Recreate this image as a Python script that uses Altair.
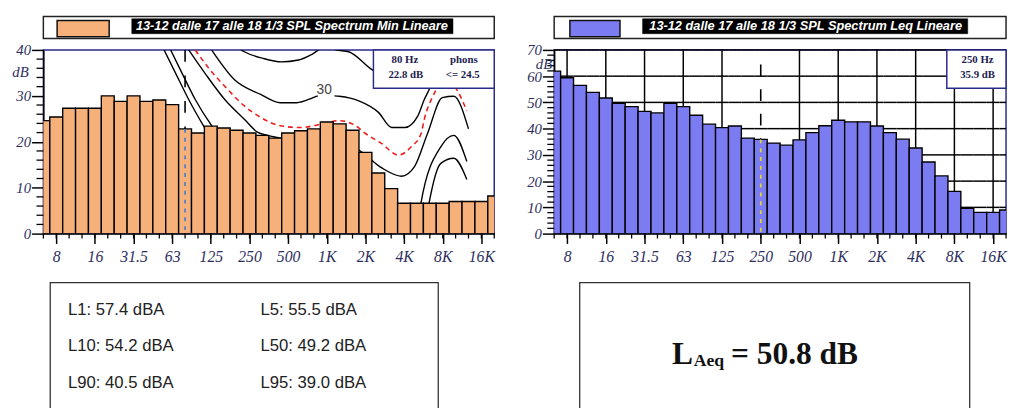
import json
import altair as alt
import pandas as pd

# ---------------- data ----------------
bands = ["6.3", "8", "10", "12.5", "16", "20", "25", "31.5", "40", "50", "63", "80",
         "100", "125", "160", "200", "250", "315", "400", "500", "630", "800", "1K",
         "1.25K", "1.6K", "2K", "2.5K", "3.15K", "4K", "5K", "6.3K", "8K", "10K",
         "12.5K", "16K", "20K"]
min_spl = [24.6, 25.4, 27.3, 27.3, 27.3, 30.0, 28.8, 30.0, 28.8, 29.1, 28.1, 22.8,
           21.9, 23.4, 23.0, 22.5, 21.9, 21.4, 20.8, 21.9, 22.4, 22.8, 24.3, 23.9,
           22.5, 17.7, 13.2, 9.8, 6.6, 6.6, 6.6, 6.6, 7.0, 7.0, 7.0, 8.2]
leq_spl = [61.9, 59.4, 56.5, 53.8, 51.7, 49.7, 48.4, 46.6, 46.0, 49.7, 48.4, 45.1,
           41.7, 40.4, 41.0, 36.4, 35.9, 34.5, 33.7, 35.7, 38.5, 41.1, 43.2, 42.6,
           42.6, 41.0, 38.5, 36.0, 32.6, 27.3, 22.0, 16.1, 9.6, 8.1, 8.1, 9.0]
octave_idx = [1, 4, 7, 10, 13, 16, 19, 22, 25, 28, 31, 34]
octave_labels = ["8", "16", "31.5", "63", "125", "250", "500", "1K", "2K", "4K", "8K", "16K"]
leq_grid_levels = [10, 20, 30, 40, 50, 60, 70]

# equal-loudness contours (band position, dB)
phon0_pos = [9.37, 10.27, 11.28, 12.42, 14.0, 16.0, 19.0, 22.0, 25.0, 27.0, 28.6, 29.5, 29.95, 30.85, 31.86, 32.87]
phon0_db = [40.0, 34.9, 29.2, 23.5, 16.5, 10.0, 5.0, 2.5, 1.0, -1.0, -2.5, -1.0, 6.8, 15.3, 16.4, 11.8]
phon10_pos = [9.88, 10.77, 11.79, 13.06, 15.0, 17.0, 20.0, 22.0, 25.0, 27.5, 28.6, 29.15, 29.32, 30.85, 31.86, 32.87]
phon10_db = [40.0, 34.9, 29.2, 23.5, 17.0, 13.5, 11.0, 10.0, 8.0, 3.0, 0.5, 1.0, 6.8, 18.9, 21.4, 15.7]
phon20_pos = [11.28, 12.55, 14.08, 15.6, 16.62, 17.38, 19.0, 21.95, 23.3, 24.49, 26.27, 27.8, 28.81, 29.82, 30.97, 31.86, 33.0]
phon20_db = [40.0, 34.9, 29.2, 24.9, 22.1, 21.4, 20.6, 20.0, 19.5, 18.2, 14.3, 12.5, 14.6, 21.8, 29.6, 29.9, 22.8]
phon30a_pos = [13.06, 14.84, 16.87, 18.39, 19.66, 20.94, 21.3]
phon30a_db = [40.0, 33.5, 30.3, 28.5, 28.5, 29.6, 30.0]
phon30b_pos = [22.6, 22.97, 24.49, 26.01, 27.04, 28.05, 29.06, 29.57, 29.95, 30.6, 31.5, 32.4, 33.0]
phon30b_db = [30.0, 29.9, 28.9, 26.4, 23.1, 23.1, 25.6, 29.2, 31.4, 36.0, 40.0, 38.0, 35.0]
phon40_pos = [15.2, 15.6, 17.0, 18.5, 19.8, 20.94, 21.9, 22.71, 23.7, 25.51, 27.0, 28.5, 29.5, 30.5, 31.5, 32.5, 33.0]
phon40_db = [40.3, 39.6, 38.2, 37.4, 37.8, 39.2, 40.8, 40.0, 39.6, 35.7, 33.5, 33.5, 37.0, 42.0, 44.0, 42.0, 40.0]
limit_pos = [11.79, 12.93, 14.08, 15.6, 16.87, 18.39, 19.92, 21.7, 22.97, 24.24, 25.0, 26.27, 27.54, 28.56, 29.32, 29.57, 30.34, 31.2, 32.24, 32.87]
limit_db = [40.0, 35.7, 32.1, 27.8, 25.3, 23.5, 23.1, 23.9, 24.6, 23.5, 21.8, 19.6, 17.1, 18.9, 21.8, 24.9, 30.5, 34.0, 30.6, 26.7]
contour_label = "30"
contour_label_pos, contour_label_db = 21.8, 31.2

title_min = "13-12 dalle 17 alle 18 1/3 SPL Spectrum Min Lineare"
title_leq = "13-12 dalle 17 alle 18 1/3 SPL Spectrum Leq Lineare"
cursor_min_band = 11
cursor_leq_band = 16
cursor_leq_top = 64.4
phons_limit = "<= 24.5"
stat_names = ["L1", "L5", "L10", "L50", "L90", "L95"]
stat_values = [57.4, 55.5, 54.2, 49.2, 40.5, 39.0]
laeq_value = 50.8

# ---------------- style ----------------
ORANGE = "#F6B07A"
BLUE = "#7C7CF2"
NAVY = "#2a2a8c"
LABEL = "#2e2e5e"
SERIF = "Liberation Serif"
SANS = "Liberation Sans"
H = 187
W_MIN, W_LEQ = 459, 460
N = len(bands)
XS = alt.Scale(domain=[0, N - 1], nice=False, zero=False)
YS_MIN = alt.Scale(domain=[0, 40], nice=False, zero=True)
YS_LEQ = alt.Scale(domain=[0, 70], nice=False, zero=True)

tick_text = [""] * N
for i, t in zip(octave_idx, octave_labels):
    tick_text[i] = t
LABEL_EXPR = json.dumps(tick_text) + "[datum.value]"


def x_axis():
    return alt.Axis(values=octave_idx, labelExpr=LABEL_EXPR, tickSize=10, tickWidth=1.5, tickColor="black",
                    domainColor="black", domainWidth=1.5, labelFont=SERIF, labelFontStyle="italic",
                    labelFontSize=16, labelColor=LABEL, labelPadding=5, labelFlush=False,
                    labelOverlap=False, grid=False, title=None)


def y_axis(vals):
    return alt.Axis(values=vals, tickSize=12, tickWidth=1.5, tickColor="black", domainColor="black",
                    domainWidth=1.5, labelFont=SERIF, labelFontStyle="italic", labelFontSize=15,
                    labelColor=LABEL, labelPadding=1, grid=False, title=None)


AX = x_axis()
AY_MIN = y_axis([0, 10, 20, 30, 40])
AY_LEQ = y_axis([0, 10, 20, 30, 40, 50, 60, 70])

one = pd.DataFrame({"k": [0]})


def rect_px(x, x2, y, y2, fill, stroke="black", sw=1.5):
    return alt.Chart(one).mark_rect(fill=fill, stroke=stroke, strokeWidth=sw).encode(
        x=alt.value(x), x2=alt.value(x2), y=alt.value(y), y2=alt.value(y2))


def spacer(x, y):
    return alt.Chart(one).mark_rule(color="white", strokeWidth=1).encode(
        x=alt.value(x), x2=alt.value(x + 1), y=alt.value(y), y2=alt.value(y))


def text_px(text, x, y, **kw):
    return alt.Chart(one).mark_text(text=text, **kw).encode(x=alt.value(x), y=alt.value(y))


def bars(vals, ys, ay, fill):
    df = pd.DataFrame({"idx": list(range(N)), "val": vals})
    df["x0"] = df["idx"] - 0.5
    df["x1"] = df["idx"] + 0.5
    df["base"] = 0.0
    return alt.Chart(df).mark_rect(fill=fill, stroke="black", strokeWidth=1.4, clip=True).encode(
        x=alt.X("x0:Q", scale=XS, axis=AX),
        x2="x1:Q",
        y=alt.Y("val:Q", scale=ys, axis=ay),
        y2="base:Q",
    )


def minor_ticks(ys, ay, ymax):
    minor = [v for v in range(0, ymax + 1, 2) if v % 10 != 0]
    xt = alt.Chart(pd.DataFrame({"idx": list(range(N))})).mark_rule(color="black", strokeWidth=1.3).encode(
        x=alt.X("idx:Q", scale=XS, axis=AX), y=alt.value(H), y2=alt.value(H + 5))
    yt = alt.Chart(pd.DataFrame({"v": minor})).mark_rule(color="black", strokeWidth=1.3).encode(
        y=alt.Y("v:Q", scale=ys, axis=ay), x=alt.value(-7), x2=alt.value(0))
    return [xt, yt]


def cursor(band, top, base, ys, ay, color, dash, sw=1.5):
    df = pd.DataFrame({"idx": [band], "top": [top], "base": [base]})
    return alt.Chart(df).mark_rule(color=color, strokeDash=dash, strokeWidth=sw).encode(
        x=alt.X("idx:Q", scale=XS, axis=AX), y=alt.Y("top:Q", scale=ys, axis=ay), y2="base:Q")


def header(width, fill, text, sw_x, bg_x, text_cx):
    return [
        rect_px(0, width, -34, -11.7, "white", "#222", 1.5),
        rect_px(sw_x[0], sw_x[1], -30, -13.5, fill, "#111", 1.5),
        rect_px(bg_x[0], bg_x[1], -31.7, -16.5, "black", "black", 0.5),
        text_px(text, text_cx, -24, font=SANS, fontSize=13, fontWeight="bold", fontStyle="italic",
                color="white", align="center", baseline="middle"),
    ]


# ---------------- left panel (Min) ----------------
rows = []
for name, pos, db in [("p0", phon0_pos, phon0_db), ("p10", phon10_pos, phon10_db),
                      ("p20", phon20_pos, phon20_db), ("p30a", phon30a_pos, phon30a_db),
                      ("p30b", phon30b_pos, phon30b_db), ("p40", phon40_pos, phon40_db)]:
    for p, d in zip(pos, db):
        rows.append({"curve": name, "pos": p, "db": d})
black_df = pd.DataFrame(rows)
red_df = pd.DataFrame({"curve": "limit", "pos": limit_pos, "db": limit_db})

black_lines = alt.Chart(black_df).mark_line(color="black", strokeWidth=1.4, clip=True, interpolate="monotone").encode(
    x=alt.X("pos:Q", scale=XS, axis=AX), y=alt.Y("db:Q", scale=YS_MIN, axis=AY_MIN), detail="curve:N")
red_line = alt.Chart(red_df).mark_line(color="#ee1c1c", strokeWidth=1.6, strokeDash=[5, 4], clip=True,
                                       interpolate="monotone").encode(
    x=alt.X("pos:Q", scale=XS, axis=AX), y=alt.Y("db:Q", scale=YS_MIN, axis=AY_MIN), detail="curve:N")
c_label = alt.Chart(pd.DataFrame({"pos": [contour_label_pos], "db": [contour_label_db]})).mark_text(
    text=contour_label, font=SANS, fontSize=14, color="#444", align="center", baseline="middle").encode(
    x=alt.X("pos:Q", scale=XS, axis=AX), y=alt.Y("db:Q", scale=YS_MIN, axis=AY_MIN))

left_layers = [
    black_lines, red_line, c_label,
    cursor(cursor_min_band, 40, 0.0, YS_MIN, AY_MIN, "black", [12, 14], 1.6),
    bars(min_spl, YS_MIN, AY_MIN, ORANGE),
    cursor(cursor_min_band, min_spl[cursor_min_band], 0.0, YS_MIN, AY_MIN, "#3d7bd6", [4, 5], 1.6),
] + minor_ticks(YS_MIN, AY_MIN, 40) + [
    rect_px(336, W_MIN, 0, 39, "white", NAVY, 1.5),
    text_px(f"{bands[cursor_min_band]}  Hz", 368, 10, font=SERIF, fontSize=11, fontWeight="bold",
            color="#1c1c50", align="center", baseline="middle"),
    text_px(f"{min_spl[cursor_min_band]:.1f} dB", 369, 26, font=SERIF, fontSize=11, fontWeight="bold",
            color="#1c1c50", align="center", baseline="middle"),
    text_px("phons", 428, 10, font=SERIF, fontSize=11, fontWeight="bold", color="#1c1c50",
            align="center", baseline="middle"),
    text_px(phons_limit, 427, 26, font=SERIF, fontSize=11, fontWeight="bold", color="#1c1c50",
            align="center", baseline="middle"),
    text_px("dB", -15, 23, font=SERIF, fontSize=15, fontStyle="italic", color=LABEL,
            align="right", baseline="middle"),
] + header(W_MIN, ORANGE, title_min, (14, 67), (90, 417), 253) + [
    rect_px(7, 402, 237, 367, "white", "#333", 1.3),
]
for i, (nm, v) in enumerate(zip(stat_names, stat_values)):
    left_layers.append(text_px(f"{nm}: {v:.1f} dBA", 25 + 196 * (i % 2), 265 + 37 * (i // 2),
                               font=SANS, fontSize=17, color="#222", align="left", baseline="middle"))
left_layers += [spacer(-34, -37), spacer(W_MIN + 22, -37)]

left = alt.layer(*left_layers).properties(width=W_MIN, height=H)

# ---------------- right panel (Leq) ----------------
# grid segments visible above the bars (the grid lies behind the bars); the cursor replaces the 250 Hz line
grid_idx = [i for i in octave_idx if i != cursor_leq_band]
vg = pd.DataFrame({"idx": grid_idx, "lo": [leq_spl[i] for i in grid_idx], "hi": [70.0] * len(grid_idx)})
hg_rows = []
for lvl in leq_grid_levels:
    for i, v in enumerate(leq_spl):
        if v < lvl:
            hg_rows.append({"lvl": lvl, "a": max(i - 0.5, 0), "b": min(i + 0.5, N - 1)})
hg = pd.DataFrame(hg_rows)
vgrid = alt.Chart(vg).mark_rule(color="black", strokeWidth=1.5).encode(
    x=alt.X("idx:Q", scale=XS, axis=AX), y=alt.Y("hi:Q", scale=YS_LEQ, axis=AY_LEQ), y2="lo:Q")
hgrid = alt.Chart(hg).mark_rule(color="black", strokeWidth=1.5).encode(
    x=alt.X("a:Q", scale=XS, axis=AX), x2="b:Q", y=alt.Y("lvl:Q", scale=YS_LEQ, axis=AY_LEQ))

right_layers = [
    bars(leq_spl, YS_LEQ, AY_LEQ, BLUE),
    vgrid, hgrid,
    cursor(cursor_leq_band, cursor_leq_top, leq_spl[cursor_leq_band], YS_LEQ, AY_LEQ,
           "black", [12, 13], 1.6),
    cursor(cursor_leq_band, leq_spl[cursor_leq_band], 0.0, YS_LEQ, AY_LEQ, "#e6dc22", [4, 5], 1.6),
] + minor_ticks(YS_LEQ, AY_LEQ, 70) + [
    rect_px(399.7, W_LEQ, 0, 39, "white", NAVY, 1.5),
    text_px(f"{bands[cursor_leq_band]} Hz", 431, 10, font=SERIF, fontSize=11, fontWeight="bold",
            color="#1c1c50", align="center", baseline="middle"),
    text_px(f"{leq_spl[cursor_leq_band]:.1f} dB", 431, 26, font=SERIF, fontSize=11, fontWeight="bold",
            color="#1c1c50", align="center", baseline="middle"),
    text_px("dB", -2, 14, font=SERIF, fontSize=15, fontStyle="italic", color=LABEL,
            align="right", baseline="middle"),
] + header(W_LEQ, BLUE, title_leq, (16, 67), (90, 421), 256) + [
    rect_px(26, 423, 237, 367, "white", "#333", 1.3),
    text_px("L", 120, 320, font=SERIF, fontSize=32, fontWeight="bold", color="#111",
            align="left", baseline="alphabetic"),
    text_px("Aeq", 142, 322, font=SERIF, fontSize=18, fontWeight="bold", color="#111",
            align="left", baseline="alphabetic"),
    text_px(f"= {laeq_value:.1f} dB", 180, 320, font=SERIF, fontSize=32, fontWeight="bold",
            color="#111", align="left", baseline="alphabetic"),
    spacer(-34, -37),
]
right = alt.layer(*right_layers).properties(width=W_LEQ, height=H)

chart = alt.hconcat(left, right, spacing=0).properties(padding=0).configure_view(
    stroke=NAVY, strokeWidth=1.5)

chart.save("out.html", embed_options={"renderer": "svg", "actions": False})
